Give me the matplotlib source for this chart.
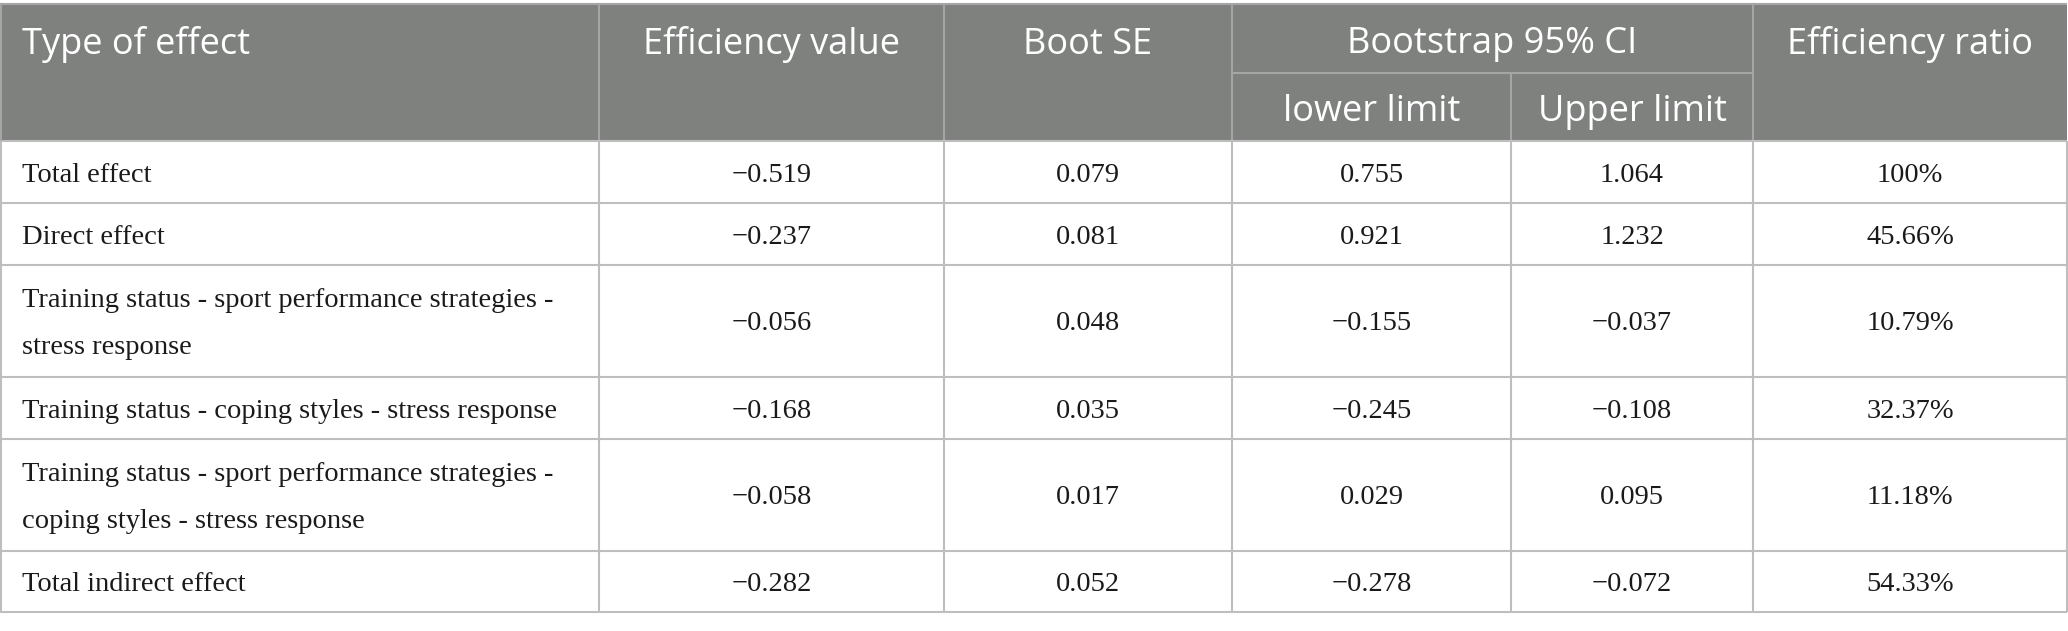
import matplotlib.pyplot as plt
from matplotlib.patches import Rectangle

# table content
types = [
    "Total effect",
    "Direct effect",
    "Training status - sport performance strategies -\nstress response",
    "Training status - coping styles - stress response",
    "Training status - sport performance strategies -\ncoping styles - stress response",
    "Total indirect effect",
]
eff_value = ["\u22120.519", "\u22120.237", "\u22120.056", "\u22120.168", "\u22120.058", "\u22120.282"]
boot_se = ["0.079", "0.081", "0.048", "0.035", "0.017", "0.052"]
lower_limit = ["0.755", "0.921", "\u22120.155", "\u22120.245", "0.029", "\u22120.278"]
upper_limit = ["1.064", "1.232", "\u22120.037", "\u22120.108", "0.095", "\u22120.072"]
eff_ratio = ["100%", "45.66%", "10.79%", "32.37%", "11.18%", "54.33%"]

# layout in pixels
W, H = 2068, 631
col_x = [0, 599, 944, 1232, 1511, 1753, 2067]
head_top, head_mid, head_bot = 4, 73, 141
row_y = [141, 203, 265, 377, 439, 551, 612]

head_col = "#7f817f"
head_line = "#a4a5a4"
body_line = "#bebebe"

fig = plt.figure(figsize=(W / 100, H / 100), dpi=100)
ax = fig.add_axes([0, 0, 1, 1])
ax.set_xlim(0, W)
ax.set_ylim(H, 0)
ax.axis("off")

ax.add_patch(Rectangle((0, head_top), col_x[-1], head_bot - head_top,
                       facecolor=head_col, edgecolor="none"))

# header lines
ax.hlines(head_top, 0, col_x[-1], color=head_line, lw=1.5)
ax.hlines(head_mid, col_x[3], col_x[5], color=head_line, lw=1.5)
for x in col_x[1:6]:
    if x == col_x[4]:
        ax.vlines(x, head_mid, head_bot, color=head_line, lw=1.5)
    else:
        ax.vlines(x, head_top, head_bot, color=head_line, lw=1.5)

# body lines
for y in row_y:
    ax.hlines(y, 0, col_x[-1], color=body_line, lw=1.5)
for x in col_x:
    ax.vlines(x + (1 if x == 0 else 0), row_y[0], row_y[-1], color=body_line, lw=1.5)
ax.vlines(1, head_top, head_bot, color=head_line, lw=1.5)

hfont = dict(family="Open Sans", size=26, color="white", va="center")
head_y = (head_top + head_mid) / 2 + 6
sub_y = (head_mid + head_bot) / 2 + 5
ax.text(22, head_y, "Type of effect", ha="left", **hfont)
ax.text((col_x[1] + col_x[2]) / 2, head_y, "Efficiency value", ha="center", **hfont)
ax.text((col_x[2] + col_x[3]) / 2, head_y, "Boot SE", ha="center", **hfont)
ax.text((col_x[3] + col_x[5]) / 2, head_y, "Bootstrap 95% CI", ha="center", **hfont)
ax.text((col_x[3] + col_x[4]) / 2, sub_y, "lower limit", ha="center", **hfont)
ax.text((col_x[4] + col_x[5]) / 2, sub_y, "Upper limit", ha="center", **hfont)
ax.text((col_x[5] + col_x[6]) / 2, head_y, "Efficiency ratio", ha="center", **hfont)

bfont = dict(family="Liberation Serif", size=20.5, color="#1a1a1a", va="center")
columns = [eff_value, boot_se, lower_limit, upper_limit, eff_ratio]
for i, name in enumerate(types):
    yc = (row_y[i] + row_y[i + 1]) / 2 + 3
    ax.text(22, yc, name, ha="left", linespacing=2.15, **bfont)
    for j, col in enumerate(columns):
        ax.text((col_x[j + 1] + col_x[j + 2]) / 2, yc, col[i], ha="center", **bfont)

fig.savefig("out.png", dpi=100)
